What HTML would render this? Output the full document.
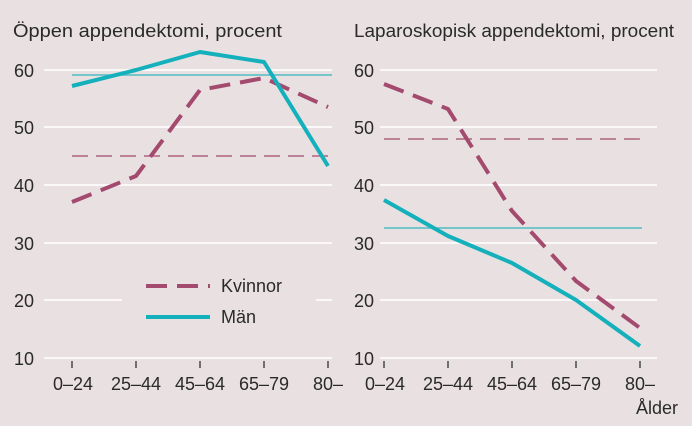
<!DOCTYPE html>
<html><head><meta charset="utf-8"><style>
body{margin:0;background:#fff}
svg{display:block;font-family:"Liberation Sans",sans-serif}
</style></head><body>
<svg width="700" height="426" viewBox="0 0 700 426">
<rect x="0" y="0" width="692" height="426" fill="#e9e1e1"/>
<g fill="#2a2a2a" font-size="18">
<text x="13" y="37" textLength="269" lengthAdjust="spacingAndGlyphs">Öppen appendektomi, procent</text>
<text x="354" y="37" textLength="320" lengthAdjust="spacingAndGlyphs">Laparoskopisk appendektomi, procent</text>
</g>
<g stroke="#fff" stroke-width="1.6">
<line x1="44" y1="70" x2="332" y2="70"/><line x1="44" y1="127" x2="332" y2="127"/>
<line x1="44" y1="185" x2="332" y2="185"/><line x1="44" y1="243" x2="332" y2="243"/>
<line x1="44" y1="300" x2="122" y2="300"/><line x1="316" y1="300" x2="332" y2="300"/>
<line x1="44" y1="358" x2="332" y2="358"/>
<line x1="380" y1="70" x2="657" y2="70"/><line x1="380" y1="127" x2="657" y2="127"/>
<line x1="380" y1="185" x2="657" y2="185"/><line x1="380" y1="243" x2="657" y2="243"/>
<line x1="380" y1="300" x2="657" y2="300"/><line x1="380" y1="358" x2="657" y2="358"/>
</g>
<g stroke="#333" stroke-width="1.3">
<line x1="72" y1="361" x2="72" y2="368"/><line x1="136" y1="361" x2="136" y2="368"/><line x1="200" y1="361" x2="200" y2="368"/><line x1="264" y1="361" x2="264" y2="368"/><line x1="328" y1="361" x2="328" y2="368"/>
<line x1="384" y1="361" x2="384" y2="368"/><line x1="448" y1="361" x2="448" y2="368"/><line x1="512" y1="361" x2="512" y2="368"/><line x1="576" y1="361" x2="576" y2="368"/><line x1="640" y1="361" x2="640" y2="368"/>
</g>
<g fill="#2a2a2a" font-size="18">
<g text-anchor="start">
<text x="14" y="77">60</text><text x="14" y="134">50</text><text x="14" y="192">40</text><text x="14" y="250">30</text><text x="14" y="307">20</text><text x="14" y="365">10</text>
<text x="354" y="77">60</text><text x="354" y="134">50</text><text x="354" y="192">40</text><text x="354" y="250">30</text><text x="354" y="307">20</text><text x="354" y="365">10</text>
</g>
<g text-anchor="middle">
<text x="73" y="390">0–24</text><text x="136" y="390">25–44</text><text x="200" y="390">45–64</text><text x="264" y="390">65–79</text><text x="328" y="390">80–</text>
<text x="385" y="390">0–24</text><text x="448" y="390">25–44</text><text x="512" y="390">45–64</text><text x="576" y="390">65–79</text><text x="640" y="390">80–</text>
<text x="657" y="414">Ålder</text>
</g>
<text x="221" y="292">Kvinnor</text><text x="221" y="323">Män</text>
</g>
<line x1="72" y1="75" x2="332" y2="75" stroke="#4fbcc4" stroke-width="1.4"/>
<line x1="72" y1="156" x2="332" y2="156" stroke="#a34a6e" stroke-width="1.2" stroke-dasharray="16,8"/>
<line x1="384" y1="139" x2="645" y2="139" stroke="#a34a6e" stroke-width="1.2" stroke-dasharray="16,8"/>
<line x1="384" y1="228" x2="642" y2="228" stroke="#4fbcc4" stroke-width="1.4"/>
<g fill="none" stroke-width="4" stroke-linejoin="round">
<polyline stroke="#a34a6e" stroke-dasharray="21,10" points="72,202 136,176 200,90 264,78 328,107"/>
<polyline stroke="#14b0bb" points="72,86 136,70 200,52 264,62 328,166"/>
<polyline stroke="#a34a6e" stroke-dasharray="21,10" points="384,84 448,109 512,211 576,281 640,328"/>
<polyline stroke="#14b0bb" points="384,200 448,236 512,263 576,300 640,346"/>
<line x1="146" y1="286" x2="210" y2="286" stroke="#a34a6e" stroke-dasharray="21,10"/>
<line x1="146" y1="317" x2="210" y2="317" stroke="#14b0bb"/>
</g>
</svg>
</body></html>
